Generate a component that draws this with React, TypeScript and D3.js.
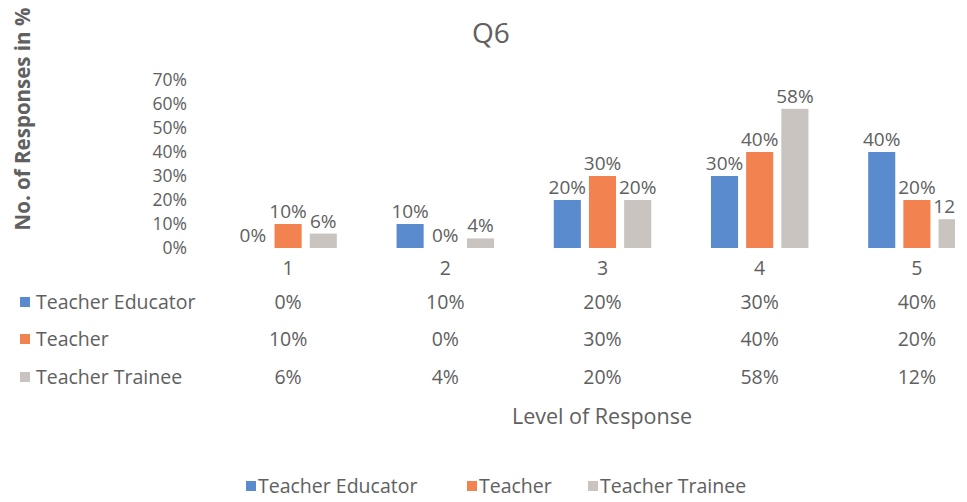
import React from 'react';
import { scaleBand, scaleLinear } from 'd3';

const categories = ['1', '2', '3', '4', '5'];
const seriesNames = ['Teacher Educator', 'Teacher', 'Teacher Trainee'];
const educator = [0, 10, 20, 30, 40];
const teacher = [10, 0, 30, 40, 20];
const trainee = [6, 4, 20, 58, 12];
const yTicks = [0, 10, 20, 30, 40, 50, 60, 70];
const colors = ['#5b8bcf', '#f2824f', '#c9c4bf'];

const FONT = '"Open Sans", Lato, sans-serif';
const TEXT = '#606060';
const FS = 19.5;

const App = () => {
  const values = [educator, teacher, trainee];

  // scales
  const x0 = scaleBand().domain(categories).range([209.5, 995.5]).paddingInner(0.38).paddingOuter(0.19);
  const x1 = scaleBand().domain(seriesNames).range([0, x0.bandwidth()]).paddingInner(0.23);
  const y = scaleLinear().domain([0, 70]).range([248, 80]);
  const center = (c: string) => (x0(c) as number) + x0.bandwidth() / 2;

  const rowY = [302, 339, 377];

  return (
    <svg width={967} height={502} style={{ position: 'absolute', left: 0, top: 0, background: '#fff' }} fontFamily={FONT}>
      <defs>
        <clipPath id='cut'>
          <rect x={0} y={0} width={955} height={502} />
        </clipPath>
      </defs>
      <g clipPath='url(#cut)'>
        <text x={491} y={43} textAnchor='middle' fontSize={28} fill={TEXT}>Q6</text>

        <text transform='translate(30,119) rotate(-90)' textAnchor='middle' fontSize={20.5} fontWeight='bold' fill={TEXT}>
          No. of Responses in %
        </text>

        {/* y axis labels */}
        {yTicks.map((t) => (
          <text key={t} x={187} y={y(t)} dy='0.35em' textAnchor='end' fontSize={17.5} fill={TEXT}>
            {t}%
          </text>
        ))}

        {/* bars + labels */}
        {categories.map((c, ci) => (
          <g key={c} transform={`translate(${x0(c)},0)`}>
            {seriesNames.map((s, si) => {
              const v = values[si][ci];
              const bx = x1(s) as number;
              return (
                <g key={s}>
                  <rect x={bx} y={y(v)} width={x1.bandwidth()} height={y(0) - y(v)} fill={colors[si]} />
                  <text x={bx + x1.bandwidth() / 2} y={y(v) - 6} textAnchor='middle' fontSize={19} fill={TEXT}>
                    {v}%
                  </text>
                </g>
              );
            })}
          </g>
        ))}

        {/* category labels */}
        {categories.map((c) => (
          <text key={c} x={center(c)} y={268} dy='0.35em' textAnchor='middle' fontSize={FS} fill={TEXT}>
            {c}
          </text>
        ))}

        {/* data table */}
        {seriesNames.map((s, si) => (
          <g key={s}>
            <rect x={20} y={rowY[si] - 5} width={10} height={10} fill={colors[si]} />
            <text x={36} y={rowY[si]} dy='0.35em' fontSize={FS} fill={TEXT}>{s}</text>
            {categories.map((c, ci) => (
              <text key={c} x={center(c)} y={rowY[si]} dy='0.35em' textAnchor='middle' fontSize={FS} fill={TEXT}>
                {values[si][ci]}%
              </text>
            ))}
          </g>
        ))}

        <text x={602} y={416} dy='0.35em' textAnchor='middle' fontSize={21.5} fill={TEXT}>Level of Response</text>

        {/* legend */}
        {seriesNames.map((s, si) => {
          const lx = [246, 467, 588][si];
          return (
            <g key={s}>
              <rect x={lx} y={481} width={10} height={10} fill={colors[si]} />
              <text x={lx + 12} y={486} dy='0.35em' fontSize={FS} fill={TEXT}>{s}</text>
            </g>
          );
        })}
      </g>
    </svg>
  );
};

export default App;
